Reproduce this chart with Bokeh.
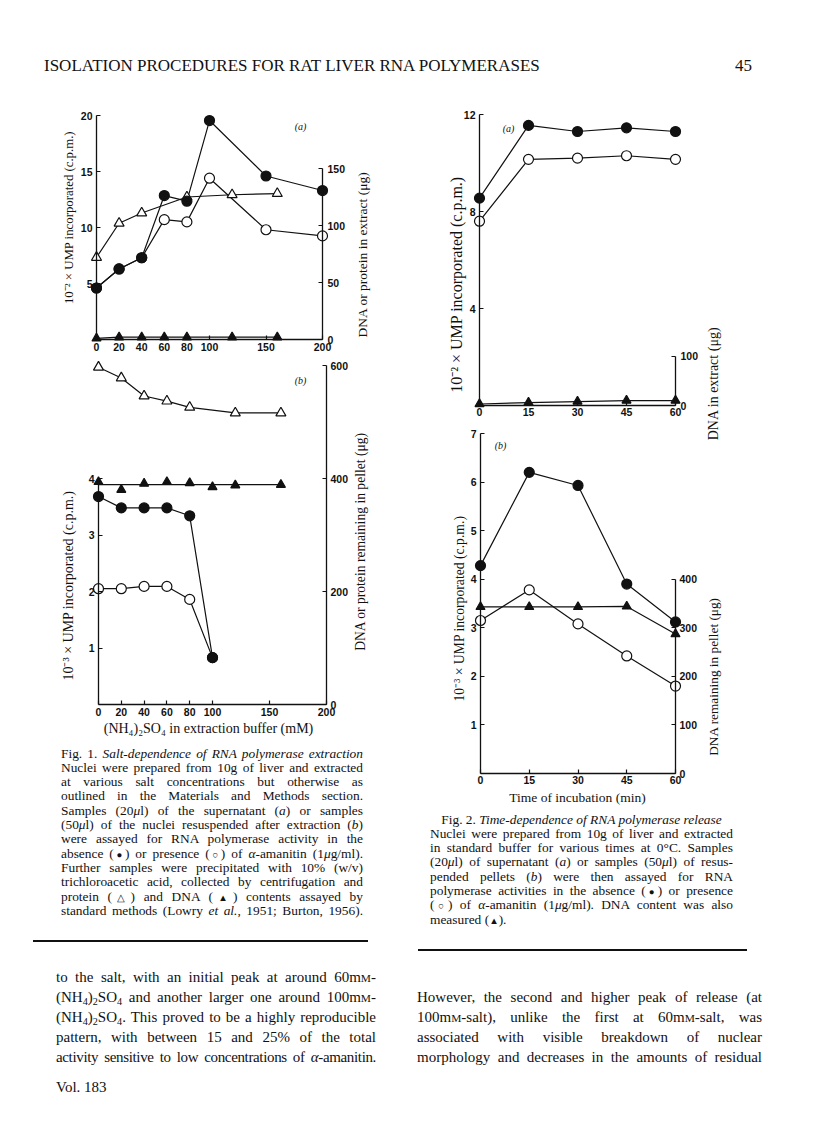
import math
from bokeh.plotting import figure
from bokeh.models import Range1d, LinearAxis, FixedTicker, Label, Div
from bokeh.layouts import column, row
from bokeh.embed import file_html
from bokeh.resources import INLINE

INK = "#111111"
SERIF = "Liberation Serif"
SANS = "Liberation Sans"

# ---------------- data ----------------
# Fig. 1 - salt dependence; x = (NH4)2SO4 in extraction buffer (mM)
salt_ticks = [0, 20, 40, 60, 80, 100, 150, 200]
f1a_salt = [0, 20, 40, 60, 80, 100, 150, 200]
f1a_minus_amanitin = [4.6, 6.3, 7.3, 12.85, 12.35, 19.55, 14.6, 13.3]   # 10^-2 x c.p.m.
f1a_plus_amanitin = [4.6, 6.3, 7.3, 10.7, 10.5, 14.4, 9.8, 9.25]
f1a_protein_salt = [0, 20, 40, 80, 120, 160]
f1a_protein_ug = [72, 102, 111, 125, 127, 128]
f1a_dna_salt = [0, 20, 40, 60, 80, 120, 160]
f1a_dna_ug = [1, 2, 2, 2, 2, 2, 2]

f1b_salt = [0, 20, 40, 60, 80, 100]
f1b_minus_amanitin = [3.68, 3.48, 3.48, 3.48, 3.34, 0.83]              # 10^-3 x c.p.m.
f1b_plus_amanitin = [2.05, 2.05, 2.09, 2.09, 1.86, 0.83]
f1b_protein_salt = [0, 20, 40, 60, 80, 120, 160]
f1b_protein_ug = [597, 578, 546, 537, 526, 516, 516]
f1b_dna_salt = [0, 20, 40, 60, 80, 100, 120, 160]
f1b_dna_ug = [394, 380, 391, 394, 392, 385, 388, 389]

# Fig. 2 - time dependence; x = time of incubation (min)
time_ticks = [0, 15, 30, 45, 60]
time_min = [0, 15, 30, 45, 60]
f2a_minus_amanitin = [8.55, 11.55, 11.3, 11.45, 11.3]                  # 10^-2 x c.p.m.
f2a_plus_amanitin = [7.6, 10.15, 10.2, 10.3, 10.15]
f2a_dna_ug = [3, 6, 8, 10, 10]
f2b_minus_amanitin = [4.28, 6.2, 5.93, 3.9, 3.12]                      # 10^-3 x c.p.m.
f2b_plus_amanitin = [3.15, 3.78, 3.08, 2.42, 1.8]
f2b_dna_ug = [343, 343, 343, 344, 287]

f1a_left_ticks, f1a_right_ticks = [5, 10, 15, 20], [0, 50, 100, 150]
f1b_left_ticks, f1b_right_ticks = [1, 2, 3, 4], [0, 200, 400, 600]
f2a_left_ticks, f2a_right_ticks = [4, 8, 12], [0, 100]
f2b_left_ticks, f2b_right_ticks = [1, 2, 3, 4, 5, 6, 7], [0, 100, 200, 300, 400]

UP = math.pi / 2


# ---------------- helpers ----------------
def style_axis(axis, ticks, bounds, standoff, loc):
    axis.ticker = FixedTicker(ticks=ticks)
    axis.bounds = bounds
    axis.fixed_location = loc
    axis.axis_line_color = INK
    axis.axis_line_width = 1.3
    axis.major_tick_line_color = INK
    axis.major_tick_line_width = 1.2
    axis.major_tick_in = 4
    axis.major_tick_out = 0
    axis.minor_tick_line_color = None
    axis.major_label_text_font = SANS
    axis.major_label_text_font_size = "10.5px"
    axis.major_label_text_font_style = "bold"
    axis.major_label_text_color = INK
    axis.major_label_standoff = standoff


def column_figure(fig_box):
    """One figure per page column; its frame fills the figure, panels live in named ranges."""
    fx, fy, fw, fh = fig_box
    p = figure(width=fw, height=fh, output_backend="svg", toolbar_location=None,
               x_range=Range1d(0, 1), y_range=Range1d(0, 1),
               x_axis_location=None, y_axis_location=None,
               min_border=0, min_border_left=0, min_border_right=0,
               min_border_top=0, min_border_bottom=0, margin=0)
    p.title.visible = False
    p.grid.visible = False
    p.outline_line_color = None
    p.background_fill_color = "white"
    p.border_fill_color = "white"
    return p


class Panel:
    def __init__(self, p, fig_box, key, ax_box, x_max, y_top, y2_top, ticks, standoffs):
        fx, fy, fw, fh = fig_box
        ax_l, ax_r, ax_t, ax_b = ax_box
        self.p, self.ax_l, self.ax_b = p, ax_l, ax_b
        self.pxx = (ax_r - ax_l) / x_max
        self.pxy = (ax_b - ax_t) / y_top
        pxy2 = (ax_b - ax_t) / y2_top
        below, above = fy + fh - ax_b, ax_t - fy
        self.xn, self.yn, self.y2n = key + "_x", key + "_y", key + "_y2"
        xr = dict(p.extra_x_ranges)
        yr = dict(p.extra_y_ranges)
        xr[self.xn] = Range1d(-(ax_l - fx) / self.pxx, x_max + (fx + fw - ax_r) / self.pxx)
        yr[self.yn] = Range1d(-below / self.pxy, y_top + above / self.pxy)
        yr[self.y2n] = Range1d(-below / pxy2, y2_top + above / pxy2)
        p.extra_x_ranges = xr
        p.extra_y_ranges = yr
        x_ticks, y_ticks, y_bounds, y2_ticks, y2_bounds = ticks
        s_bottom, s_left, s_right = standoffs
        bottom = LinearAxis(x_range_name=self.xn, y_range_name=self.yn)
        style_axis(bottom, x_ticks, (0, x_max), s_bottom, 0)
        p.add_layout(bottom, "below")
        left = LinearAxis(x_range_name=self.xn, y_range_name=self.yn)
        style_axis(left, y_ticks, y_bounds, s_left, 0)
        p.add_layout(left, "left")
        right = LinearAxis(x_range_name=self.xn, y_range_name=self.y2n)
        style_axis(right, y2_ticks, y2_bounds, s_right, x_max)
        p.add_layout(right, "right")

    def line(self, x, y, right=False):
        self.p.line(x, y, line_color=INK, line_width=1.2, x_range_name=self.xn,
                    y_range_name=self.y2n if right else self.yn)

    def marks(self, x, y, marker, filled, size, right=False):
        self.p.scatter(x, y, marker=marker, size=size, line_color=INK, line_width=1.2,
                       fill_color=INK if filled else "white", x_range_name=self.xn,
                       y_range_name=self.y2n if right else self.yn)

    def text(self, px, py, text, size, angle=0.0, style="normal"):
        x = (px - self.ax_l) / self.pxx
        y = (self.ax_b - py) / self.pxy
        self.p.add_layout(Label(x=x, y=y, text=text, angle=angle, text_align="center",
                                text_baseline="middle", text_font=SERIF,
                                text_font_size=f"{size}px", text_font_style=style,
                                text_color=INK, x_range_name=self.xn, y_range_name=self.yn))


# ---------------- Fig. 1 (left column) ----------------
L_BOX = (0, 90, 388, 655)
pL = column_figure(L_BOX)

a1 = Panel(pL, L_BOX, "f1a", (96, 322, 115, 339), 200, 20, 196.5,
           (salt_ticks, f1a_left_ticks, (0, 20), f1a_right_ticks, (0, 150)), (3, 4, 5))
a1.line(f1a_salt, f1a_plus_amanitin)
a1.line(f1a_salt, f1a_minus_amanitin)
a1.line(f1a_protein_salt, f1a_protein_ug, True)
a1.line(f1a_dna_salt, f1a_dna_ug, True)
a1.marks(f1a_protein_salt, f1a_protein_ug, "triangle", False, 10, True)
a1.marks(f1a_dna_salt, f1a_dna_ug, "triangle", True, 9, True)
a1.marks(f1a_salt, f1a_plus_amanitin, "circle", False, 10)
a1.marks(f1a_salt, f1a_minus_amanitin, "circle", True, 10)
a1.text(68, 217, "10⁻² × UMP incorporated (c.p.m.)", 12.8, UP)
a1.text(362, 254, "DNA or protein in extract (μg)", 13.5, UP)
a1.text(300, 126, "(a)", 10, 0.0, "italic")

b1 = Panel(pL, L_BOX, "f1b", (98, 326, 365, 704), 200, 6.0, 600,
           (salt_ticks, f1b_left_ticks, (0, 4), f1b_right_ticks, (0, 600)), (3, 4, 4))
dna_mean_1b = sum(f1b_dna_ug) / len(f1b_dna_ug)
b1.line(f1b_salt, f1b_plus_amanitin)
b1.line(f1b_salt, f1b_minus_amanitin)
b1.line(f1b_protein_salt, f1b_protein_ug, True)
b1.line([f1b_dna_salt[0], f1b_dna_salt[-1]], [dna_mean_1b, dna_mean_1b], True)
b1.marks(f1b_protein_salt, f1b_protein_ug, "triangle", False, 10, True)
b1.marks(f1b_dna_salt, f1b_dna_ug, "triangle", True, 9, True)
b1.marks(f1b_salt, f1b_plus_amanitin, "circle", False, 10)
b1.marks(f1b_salt, f1b_minus_amanitin, "circle", True, 10)
b1.text(68, 585, "10⁻³ × UMP incorporated (c.p.m.)", 14, UP)
b1.text(360, 541, "DNA or protein remaining in pellet (μg)", 13.6, UP)
b1.text(208, 728, "(NH₄)₂SO₄ in extraction buffer (mM)", 14)
b1.text(300, 380, "(b)", 10, 0.0, "italic")

# ---------------- Fig. 2 (right column) ----------------
R_BOX = (388, 90, 422, 720)
pR = column_figure(R_BOX)

a2 = Panel(pR, R_BOX, "f2a", (479, 675, 114, 405), 60, 12, 590,
           (time_ticks, f2a_left_ticks, (0, 12), f2a_right_ticks, (0, 100)), (2, 4, 5))
a2.line(time_min, f2a_plus_amanitin)
a2.line(time_min, f2a_minus_amanitin)
a2.line(time_min, f2a_dna_ug, True)
a2.marks(time_min, f2a_dna_ug, "triangle", True, 9, True)
a2.marks(time_min, f2a_plus_amanitin, "circle", False, 10)
a2.marks(time_min, f2a_minus_amanitin, "circle", True, 10)
a2.text(456, 284, "10⁻² × UMP incorporated (c.p.m.)", 16, UP)
a2.text(713, 383, "DNA in extract (μg)", 14, UP)
a2.text(508, 128, "(a)", 10, 0.0, "italic")

b2 = Panel(pR, R_BOX, "f2b", (480, 675, 433, 773), 60, 7, 700,
           (time_ticks, f2b_left_ticks, (0, 7), f2b_right_ticks, (0, 400)), (2, 4, 4))
b2.line(time_min, f2b_plus_amanitin)
b2.line(time_min, f2b_minus_amanitin)
b2.line(time_min, f2b_dna_ug, True)
b2.marks(time_min, f2b_plus_amanitin, "circle", False, 10)
b2.marks(time_min, f2b_minus_amanitin, "circle", True, 10)
b2.marks(time_min, f2b_dna_ug, "triangle", True, 9, True)
b2.text(459, 608, "10⁻³ × UMP incorporated (c.p.m.)", 13.7, UP)
b2.text(713, 676, "DNA remaining in pellet (μg)", 13.3, UP)
b2.text(577, 797, "Time of incubation (min)", 13.5)
b2.text(500, 445, "(b)", 10, 0.0, "italic")


# ---------------- page text ----------------
def sub(d):
    return f'<span style="font-size:0.68em;position:relative;top:0.32em">{d}</span>'


def sym(s):
    return f'<span style="font-size:0.72em">{s}</span>'


MM = 'm<span style="font-size:0.76em">M</span>'
NH4SO4 = f"(NH{sub('4')}){sub('2')}SO{sub('4')}"


def line(text, left, center, width, size, lh, align="justify", extra=""):
    if align == "justify":
        al = "text-align:justify;text-align-last:justify;"
    elif align == "center":
        al = "text-align:center;"
    else:
        al = "text-align:left;"
    top = center - lh / 2
    return (f'<div style="position:absolute;left:{left}px;top:{top:.1f}px;width:{width}px;'
            f'height:{lh}px;line-height:{lh}px;font-size:{size}px;white-space:nowrap;{al}{extra}">'
            f'{text}</div>')


def box(w, h, inner):
    return (f'<div style="position:relative;width:{w}px;height:{h}px;margin:0;padding:0;'
            f"font-family:'{SERIF}',serif;color:{INK};\">{inner}</div>")


header_html = box(810, 90,
                  line("ISOLATION PROCEDURES FOR RAT LIVER RNA POLYMERASES", 44, 66, 520, 17, 22, "left")
                  + line("45", 735, 66, 30, 17, 22, "left"))

cap1_lines = [
    "Fig. 1. <i>Salt-dependence of RNA polymerase extraction</i>",
    "Nuclei were prepared from 10g of liver and extracted",
    "at various salt concentrations but otherwise as",
    "outlined in the Materials and Methods section.",
    "Samples (20<i>μ</i>l) of the supernatant (<i>a</i>) or samples",
    "(50<i>μ</i>l) of the nuclei resuspended after extraction (<i>b</i>)",
    "were assayed for RNA polymerase activity in the",
    f"absence ({sym('●')}) or presence ({sym('○')}) of <i>α</i>-amanitin (1<i>μ</i>g/ml).",
    "Further samples were precipitated with 10% (w/v)",
    "trichloroacetic acid, collected by centrifugation and",
    f"protein ({sym('△')}) and DNA ({sym('▲')}) contents assayed by",
    "standard methods (Lowry <i>et al.</i>, 1951; Burton, 1956).",
]
cap1_inner = "".join(line(t, 61, 8 + 14.3 * i, 302, 13.4, 15) for i, t in enumerate(cap1_lines))
cap1_inner += f'<div style="position:absolute;left:33px;top:195px;width:335px;height:1.6px;background:{INK};"></div>'
cap1_html = box(388, 200, cap1_inner)

cap2_lines = [
    "Fig. 2. <i>Time-dependence of RNA polymerase release</i>",
    "Nuclei were prepared from 10g of liver and extracted",
    "in standard buffer for various times at 0°C. Samples",
    "(20<i>μ</i>l) of supernatant (<i>a</i>) or samples (50<i>μ</i>l) of resus-",
    "pended pellets (<i>b</i>) were then assayed for RNA",
    f"polymerase activities in the absence ({sym('●')}) or presence",
    f"({sym('○')}) of <i>α</i>-amanitin (1<i>μ</i>g/ml). DNA content was also",
    f"measured ({sym('▲')}).",
]
cap2_inner = ""
for i, t in enumerate(cap2_lines):
    al = "center" if i == 0 else ("left" if i == len(cap2_lines) - 1 else "justify")
    cap2_inner += line(t, 42, 9 + 14.3 * i, 303, 13.4, 15, al)
cap2_inner += f'<div style="position:absolute;left:30px;top:139px;width:329px;height:1.8px;background:{INK};"></div>'
cap2_html = box(422, 150, cap2_inner)

body_left = [
    f"to the salt, with an initial peak at around 60{MM}-",
    f"{NH4SO4} and another larger one around 100{MM}-",
    f"{NH4SO4}. This proved to be a highly reproducible",
    "pattern, with between 15 and 25% of the total",
    "activity sensitive to low concentrations of <i>α</i>-amanitin.",
]
body_right = [
    "However, the second and higher peak of release (at",
    f"100{MM}-salt), unlike the first at 60{MM}-salt, was",
    "associated with visible breakdown of nuclear",
    "morphology and decreases in the amounts of residual",
]
body_inner = ""
for i, t in enumerate(body_left):
    extra = "letter-spacing:-0.35px;" if i == 4 else ""
    body_inner += line(t, 56, 17 + 20 * i, 320, 15, 20, "justify", extra)
for i, t in enumerate(body_right):
    body_inner += line(t, 417, 37 + 20 * i, 345, 15, 20, "justify")
body_inner += line("Vol. 183", 56, 127, 100, 15, 20, "left")
body_html = box(810, 140, body_inner)

header = Div(text=header_html, width=810, height=90, margin=0)
cap1 = Div(text=cap1_html, width=388, height=200, margin=0)
cap2 = Div(text=cap2_html, width=422, height=150, margin=0)
body = Div(text=body_html, width=810, height=140, margin=0)

layout = column(header,
                row(column(pL, cap1, spacing=0), column(pR, cap2, spacing=0), spacing=0),
                body, spacing=0)

open("out.html", "w").write(file_html(layout, INLINE, title="Isolation procedures for rat liver RNA polymerases"))
